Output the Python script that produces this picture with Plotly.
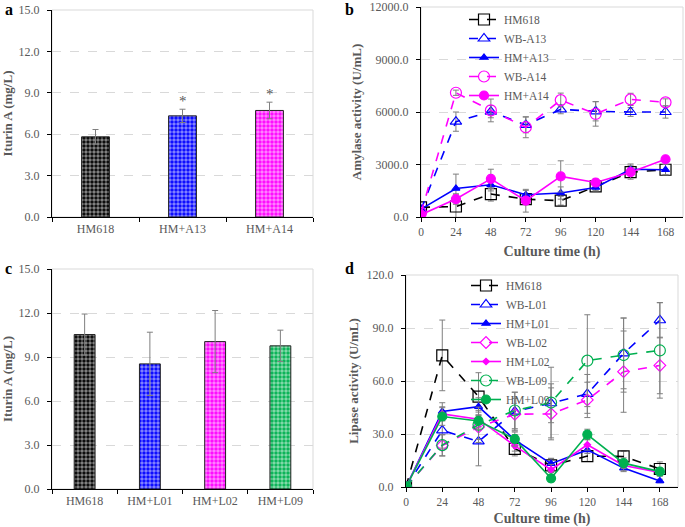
import plotly.graph_objects as go

W, H = 685, 527
FONT = "Liberation Serif"
GRAY = "#595959"

# ---------------- data ----------------
cats_a = ["HM618", "HM+A13", "HM+A14"]
iturin_a = [5.81, 7.33, 7.72]
iturin_a_err = [0.53, 0.48, 0.60]
sig_a = ["", "*", "*"]
colors_a = ["#000000", "#0000FF", "#FF00FF"]

cats_c = ["HM618", "HM+L01", "HM+L02", "HM+L09"]
iturin_c = [10.53, 8.53, 10.05, 9.76]
iturin_c_err = [1.40, 2.16, 2.12, 1.07]
colors_c = ["#000000", "#0000FF", "#FF00FF", "#00B050"]

hours = [0, 24, 48, 72, 96, 120, 144, 168]
time_ticks = [0, 24, 48, 72, 96, 120, 144, 168]

# Amylase activity (U/mL)
amy_hm618 = [550, 600, 1310, 1020, 930, 1750, 2560, 2700]
amy_hm618_err = [100, 700, 400, 250, 250, 250, 300, 300]
amy_wb_a13 = [420, 5450, 6020, 5260, 6150, 6040, 6000, 6000]
amy_wb_a13_err = [100, 550, 350, 450, 250, 550, 250, 350]
amy_hm_a13 = [450, 1630, 1840, 1270, 1370, 1690, 2730, 2700]
amy_hm_a13_err = [100, 820, 350, 250, 350, 200, 300, 300]
amy_wb_a14 = [230, 7100, 6090, 5130, 6680, 5890, 6720, 6550]
amy_wb_a14_err = [100, 150, 650, 600, 400, 700, 350, 200]
amy_hm_a14 = [130, 1025, 2180, 930, 2320, 1970, 2560, 3300]
amy_hm_a14_err = [100, 300, 550, 650, 890, 200, 400, 100]

# Lipase activity (U/mL)
lip_hm618 = [0, 74.5, 51.2, 21.6, 12.2, 17.5, 17.3, 10.2]
lip_hm618_err = [0, 20, 13.5, 4, 4, 3, 3, 4]
lip_wb_l01 = [0, 32.0, 25.8, 42.7, 47.4, 52.7, 75.6, 94.4]
lip_wb_l01_err = [0, 10, 13.8, 11, 11, 11, 20, 10]
lip_hm_l01 = [0, 42.7, 45.5, 26.7, 13.2, 21.0, 10.7, 3.4]
lip_hm_l01_err = [0, 5, 5, 3, 3, 2, 2, 1]
lip_wb_l02 = [0, 23.5, 33.9, 41.2, 41.4, 49.3, 65.3, 68.8]
lip_wb_l02_err = [0, 6, 7, 9, 14.7, 10, 23, 16]
lip_hm_l02 = [0, 41.4, 38.4, 23.3, 9.8, 23.9, 12.2, 8.3]
lip_hm_l02_err = [0, 4, 5, 3, 3, 3, 3, 2]
lip_wb_l09 = [0, 23.7, 35.2, 43.3, 47.8, 71.5, 74.7, 77.3]
lip_wb_l09_err = [0, 6, 10, 10.3, 20, 26, 21, 27]
lip_hm_l09 = [0, 39.9, 37.4, 27.1, 4.9, 29.7, 13.5, 8.7]
lip_hm_l09_err = [0, 5, 5, 4, 2, 3, 3, 2]

# ---------------- figure ----------------
fig = go.Figure()

ERR = dict(type="data", color="#7f7f7f", thickness=1, width=3)


def bar_traces(cats, vals, errs, cols, xa, ya):
    for c, v, e, col in zip(cats, vals, errs, cols):
        fig.add_trace(go.Bar(
            x=[c], y=[v], xaxis=xa, yaxis=ya, width=0.32, showlegend=False,
            marker=dict(color=col, line=dict(color="#222222", width=1),
                        pattern=dict(shape=".", fgcolor="white",
                                     size=4, solidity=0.6, fillmode="overlay")),
            error_y=dict(array=[e], **ERR),
        ))


bar_traces(cats_a, iturin_a, iturin_a_err, colors_a, "x", "y")
bar_traces(cats_c, iturin_c, iturin_c_err, colors_c, "x3", "y3")

# significance stars
for c, v, e, s in zip(cats_a, iturin_a, iturin_a_err, sig_a):
    if s:
        fig.add_annotation(x=c, y=v + e, xref="x", yref="y", text=s, showarrow=False,
                           yanchor="bottom", yshift=-2,
                           font=dict(family=FONT, size=15, color=GRAY))


def line_trace(name, y, err, color, dash, symbol, size, xa, ya, legend):
    fig.add_trace(go.Scatter(
        x=hours, y=y, name=name, mode="lines+markers", xaxis=xa, yaxis=ya,
        legend=legend,
        line=dict(color=color, width=1.6, dash="dash" if dash else "solid"),
        marker=dict(symbol=symbol, size=size, color=color,
                    line=dict(color=color, width=1.2)),
        error_y=dict(array=err, **ERR),
    ))


line_trace("HM618", amy_hm618, amy_hm618_err, "#000000", True, "square-open", 11, "x2", "y2", "legend")
line_trace("WB-A13", amy_wb_a13, amy_wb_a13_err, "#0000FF", True, "triangle-up-open", 10, "x2", "y2", "legend")
line_trace("HM+A13", amy_hm_a13, amy_hm_a13_err, "#0000FF", False, "triangle-up", 7, "x2", "y2", "legend")
line_trace("WB-A14", amy_wb_a14, amy_wb_a14_err, "#FF00FF", True, "circle-open", 11, "x2", "y2", "legend")
line_trace("HM+A14", amy_hm_a14, amy_hm_a14_err, "#FF00FF", False, "circle", 9, "x2", "y2", "legend")

line_trace("HM618", lip_hm618, lip_hm618_err, "#000000", True, "square-open", 11, "x4", "y4", "legend2")
line_trace("WB-L01", lip_wb_l01, lip_wb_l01_err, "#0000FF", True, "triangle-up-open", 10, "x4", "y4", "legend2")
line_trace("HM+L01", lip_hm_l01, lip_hm_l01_err, "#0000FF", False, "triangle-up", 7, "x4", "y4", "legend2")
line_trace("WB-L02", lip_wb_l02, lip_wb_l02_err, "#FF00FF", True, "diamond-open", 9, "x4", "y4", "legend2")
line_trace("HM+L02", lip_hm_l02, lip_hm_l02_err, "#FF00FF", False, "diamond", 5, "x4", "y4", "legend2")
line_trace("WB-L09", lip_wb_l09, lip_wb_l09_err, "#00B050", True, "circle-open", 11, "x4", "y4", "legend2")
line_trace("HM+L09", lip_hm_l09, lip_hm_l09_err, "#00B050", False, "circle", 9, "x4", "y4", "legend2")

# ---------------- axes ----------------
def px_dom_x(x0, x1):
    return [x0 / W, x1 / W]


def px_dom_y(top, bottom):
    return [1 - bottom / H, 1 - top / H]


tickfont = dict(family=FONT, size=12, color=GRAY)
xtickfont = dict(family=FONT, size=11.5, color=GRAY)
cattickfont = dict(family=FONT, size=12, color=GRAY)
titlefont = dict(family=FONT, size=13, color=GRAY)
xtitlefont = dict(family=FONT, size=14, color=GRAY)

common_y = dict(showline=True, linecolor="#000000", linewidth=1.2, ticks="outside",
                ticklen=4, tickcolor="#000000", tickfont=tickfont, tickformat=".1f",
                ticklabelstandoff=5,
                showgrid=True, gridcolor="#d9d9d9", griddash="dash", gridwidth=1,
                zeroline=False, fixedrange=True, automargin=False)
common_x = dict(showline=True, linecolor="#000000", linewidth=1.2, ticks="outside",
                ticklen=4, tickcolor="#000000", showgrid=False,
                zeroline=False, fixedrange=True, automargin=False)

layout = dict(
    width=W, height=H, margin=dict(l=0, r=0, t=0, b=0),
    paper_bgcolor="white", plot_bgcolor="white",
    barmode="overlay",
    xaxis=dict(domain=px_dom_x(52, 313), anchor="y", tickson="boundaries",
               tickfont=cattickfont, **common_x),
    yaxis=dict(domain=px_dom_y(10, 217), anchor="x", range=[0, 15], dtick=3,
               title=dict(text="<b>Iturin A (mg/L)</b>", font=titlefont, standoff=6), **common_y),
    xaxis2=dict(domain=px_dom_x(421, 683), anchor="y2", range=[0, 180], tickvals=time_ticks,
                tickfont=xtickfont,
                title=dict(text="<b>Culture time (h)</b>", font=xtitlefont, standoff=9), **common_x),
    yaxis2=dict(domain=px_dom_y(7, 217), anchor="x2", range=[0, 12000], dtick=3000,
                title=dict(text="<b>Amylase activity (U/mL)</b>", font=titlefont, standoff=4), **common_y),
    xaxis3=dict(domain=px_dom_x(52, 313), anchor="y3", tickson="boundaries",
                tickfont=cattickfont, **common_x),
    yaxis3=dict(domain=px_dom_y(269, 489), anchor="x3", range=[0, 15], dtick=3,
                title=dict(text="<b>Iturin A (mg/L)</b>", font=titlefont, standoff=6), **common_y),
    xaxis4=dict(domain=px_dom_x(406, 678), anchor="y4", range=[0, 180], tickvals=time_ticks,
                tickfont=xtickfont,
                title=dict(text="<b>Culture time (h)</b>", font=xtitlefont, standoff=8), **common_x),
    yaxis4=dict(domain=px_dom_y(275, 487), anchor="x4", range=[0, 120], dtick=30,
                title=dict(text="<b>Lipase activity (U/mL)</b>", font=titlefont, standoff=4), **common_y),
    legend=dict(x=464 / W, y=1 - 5 / H, xanchor="left", yanchor="top", bgcolor="rgba(0,0,0,0)",
                font=dict(family=FONT, size=11.5, color=GRAY), tracegroupgap=0, itemwidth=30),
    legend2=dict(x=466 / W, y=1 - 271 / H, xanchor="left", yanchor="top", bgcolor="rgba(0,0,0,0)",
                 font=dict(family=FONT, size=11.5, color=GRAY), tracegroupgap=0, itemwidth=30),
    showlegend=True,
)
fig.update_layout(**layout)

# light gray plot-area frame
for ax in ["x", "x2", "x3", "x4"]:
    ya = ax.replace("x", "y")
    fig.add_shape(type="rect", xref=f"{ax} domain", yref=f"{ya} domain", x0=0, x1=1, y0=0, y1=1,
                  line=dict(color="#d9d9d9", width=1), layer="below")

# panel letters
for txt, x, y in [("a", 3, 10), ("b", 343, 10), ("c", 3, 269), ("d", 343, 268)]:
    fig.add_annotation(x=x / W, y=1 - y / H, xref="paper", yref="paper", text=f"<b>{txt}</b>",
                       showarrow=False, xanchor="left", yanchor="middle",
                       font=dict(family=FONT, size=16, color="#000000"))

fig.write_html("out.html", config={"displayModeBar": False},
               post_script="document.body.style.margin='0px';document.body.style.padding='0px';")
